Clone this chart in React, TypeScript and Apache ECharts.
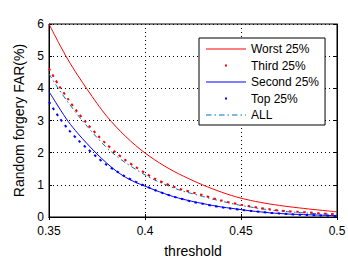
import React, { useEffect, useRef } from "react";
import * as echarts from "echarts";

const thresholds = [
  0.35, 0.355, 0.36, 0.365, 0.37, 0.375, 0.38, 0.385, 0.39, 0.395, 0.4,
  0.405, 0.41, 0.415, 0.42, 0.425, 0.43, 0.435, 0.44, 0.445, 0.45,
  0.455, 0.46, 0.465, 0.47, 0.475, 0.48, 0.485, 0.49, 0.495, 0.5,
];

const worst = [
  6.0, 5.42, 4.88, 4.4, 3.96, 3.53, 3.14, 2.8, 2.5, 2.23, 1.99,
  1.78, 1.59, 1.42, 1.27, 1.13, 1.0, 0.88, 0.77, 0.67, 0.585,
  0.515, 0.455, 0.405, 0.36, 0.32, 0.285, 0.25, 0.22, 0.19, 0.16,
];

const third = [
  4.62, 4.1, 3.66, 3.25, 2.89, 2.56, 2.26, 1.99, 1.76, 1.56, 1.37,
  1.19, 1.06, 0.94, 0.84, 0.76, 0.68, 0.59, 0.51, 0.44, 0.38,
  0.33, 0.28, 0.24, 0.2, 0.18, 0.16, 0.14, 0.12, 0.1, 0.09,
];

const second = [
  3.9, 3.42, 2.97, 2.6, 2.27, 1.96, 1.68, 1.43, 1.23, 1.08, 0.96,
  0.84, 0.73, 0.63, 0.55, 0.48, 0.42, 0.36, 0.31, 0.27, 0.23,
  0.19, 0.16, 0.13, 0.11, 0.09, 0.08, 0.07, 0.06, 0.05, 0.04,
];

const top = [
  3.58, 3.12, 2.73, 2.4, 2.12, 1.86, 1.62, 1.43, 1.25, 1.1, 0.97,
  0.84, 0.73, 0.63, 0.55, 0.47, 0.41, 0.35, 0.3, 0.26, 0.22,
  0.19, 0.16, 0.13, 0.11, 0.09, 0.07, 0.06, 0.05, 0.04, 0.03,
];

const all = [
  4.45, 3.98, 3.56, 3.17, 2.81, 2.47, 2.16, 1.9, 1.68, 1.49, 1.31,
  1.15, 1.02, 0.9, 0.8, 0.72, 0.64, 0.56, 0.49, 0.42, 0.36,
  0.31, 0.26, 0.22, 0.19, 0.16, 0.14, 0.12, 0.1, 0.09, 0.08,
];

const seriesNames = ["Worst 25%", "Third 25%", "Second 25%", "Top 25%", "ALL"];

const FONT = "'Liberation Sans', Arial, sans-serif";
const CORNERS = "M0,0h0.01v0.01h-0.01zM40,14h0.01v0.01h-0.01z";
const DOT_ICON = "path://" + CORNERS + "M19,6h2v2h-2z";
const LINE_ICON = "path://" + CORNERS + "M0,6.5h40v1h-40z";
const DASHDOT_ICON =
  "path://" +
  CORNERS +
  "M0,6.5h5.5v1h-5.5zM8.5,6.5h1.5v1h-1.5zM13,6.5h5.5v1h-5.5zM21.5,6.5h1.5v1h-1.5zM26,6.5h5.5v1h-5.5zM34.5,6.5h1.5v1h-1.5zM39,6.5h1v1h-1z";

const pairs = (vals: number[]) => thresholds.map((t, i) => [t, vals[i]]);

export default function App() {
  const ref = useRef<HTMLDivElement>(null);
  useEffect(() => {
    if (!ref.current) return;
    const chart = echarts.init(ref.current, null, { renderer: "svg" });
    const gridLine = { show: true, lineStyle: { color: "#000", type: [1, 3] as any, width: 1 } };
    chart.setOption({
      animation: false,
      backgroundColor: "#fff",
      textStyle: { fontFamily: FONT },
      grid: {
        left: 49,
        right: 11,
        top: 24,
        bottom: 42,
        show: true,
        borderColor: "#000",
        borderWidth: 1,
        containLabel: false,
        outerBoundsMode: "none",
      },
      legend: {
        orient: "vertical",
        left: 199,
        top: 38,
        padding: [4, 6, 3, 7],
        itemWidth: 40,
        itemHeight: 14,
        itemGap: 2.5,
        borderColor: "#000",
        borderWidth: 1,
        backgroundColor: "#fff",
        textStyle: { fontFamily: FONT, fontSize: 12, color: "#000" },
        data: [
          { name: seriesNames[0], icon: LINE_ICON },
          { name: seriesNames[1], icon: DOT_ICON },
          { name: seriesNames[2], icon: LINE_ICON },
          { name: seriesNames[3], icon: DOT_ICON },
          { name: seriesNames[4], icon: DASHDOT_ICON },
        ],
      },
      xAxis: [
        {
          type: "value",
          min: 0.35,
          max: 0.5,
          interval: 0.05,
          name: "threshold",
          nameLocation: "middle",
          nameGap: 27,
          nameTextStyle: { fontFamily: FONT, fontSize: 14, color: "#000" },
          axisLine: { show: true, lineStyle: { color: "#000" } },
          axisTick: { show: true, inside: true, length: 3, lineStyle: { color: "#000" } },
          axisLabel: { fontFamily: FONT, fontSize: 12, color: "#000", margin: 8 },
          splitLine: gridLine,
        },
        {
          type: "value",
          position: "top",
          min: 0.35,
          max: 0.5,
          interval: 0.05,
          axisLine: { show: true, lineStyle: { color: "#000" } },
          axisTick: { show: true, inside: true, length: 3, lineStyle: { color: "#000" } },
          axisLabel: { show: false },
          splitLine: { show: false },
        },
      ],
      yAxis: [
        {
          type: "value",
          min: 0,
          max: 6,
          interval: 1,
          name: "Random forgery FAR(%)",
          nameLocation: "middle",
          nameGap: 22,
          nameTextStyle: { fontFamily: FONT, fontSize: 14, color: "#000" },
          axisLine: { show: true, lineStyle: { color: "#000" } },
          axisTick: { show: true, inside: true, length: 3, lineStyle: { color: "#000" } },
          axisLabel: { fontFamily: FONT, fontSize: 12, color: "#000", margin: 5 },
          splitLine: gridLine,
        },
        {
          type: "value",
          position: "right",
          min: 0,
          max: 6,
          interval: 1,
          axisLine: { show: true, lineStyle: { color: "#000" } },
          axisTick: { show: true, inside: true, length: 3, lineStyle: { color: "#000" } },
          axisLabel: { show: false },
          splitLine: { show: false },
        },
      ],
      series: [
        {
          name: seriesNames[0],
          type: "line",
          data: pairs(worst),
          symbol: "none",
          smooth: 0.3,
          color: "#ff0000",
          lineStyle: { color: "#ff0000", width: 1 },
          z: 3,
        },
        {
          name: seriesNames[1],
          type: "line",
          data: pairs(third),
          symbol: "none",
          smooth: 0.3,
          color: "#ff0000",
          lineStyle: { color: "#ff0000", width: 2, type: [2.5, 4.5] },
          z: 4,
        },
        {
          name: seriesNames[2],
          type: "line",
          data: pairs(second),
          symbol: "none",
          smooth: 0.3,
          color: "#0000ff",
          lineStyle: { color: "#0000ff", width: 1 },
          z: 3,
        },
        {
          name: seriesNames[3],
          type: "line",
          data: pairs(top),
          symbol: "none",
          smooth: 0.3,
          color: "#0000ff",
          lineStyle: { color: "#0000ff", width: 2, type: [2.5, 4.5] },
          z: 4,
        },
        {
          name: seriesNames[4],
          type: "line",
          data: pairs(all),
          symbol: "none",
          smooth: 0.3,
          color: "#0072bd",
          lineStyle: { color: "#0072bd", width: 1, type: [5, 3, 1.5, 3] },
          z: 3,
        },
      ],
    });
    return () => chart.dispose();
  }, []);
  return <div ref={ref} style={{ width: 348, height: 259, position: "absolute", left: 0, top: 0 }} />;
}
